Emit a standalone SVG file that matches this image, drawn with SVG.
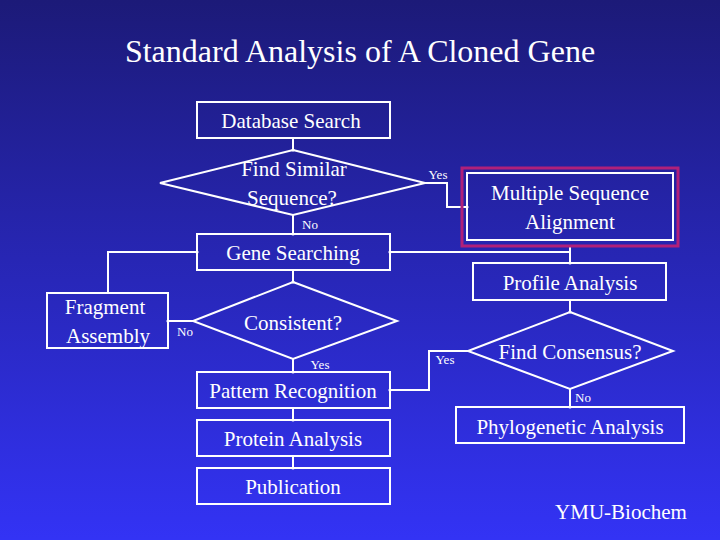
<svg xmlns="http://www.w3.org/2000/svg" width="720" height="540" viewBox="0 0 720 540" font-family="'Liberation Serif', 'Times New Roman', 'DejaVu Serif', serif">
<defs>
<linearGradient id="bg" x1="0" y1="0" x2="0" y2="1"><stop offset="0" stop-color="#1c1a78"/><stop offset="1" stop-color="#3333f5"/></linearGradient>
<marker id="dot" markerWidth="4" markerHeight="4" refX="2" refY="2" markerUnits="userSpaceOnUse"><circle cx="2" cy="2" r="1.6" fill="#fff"/></marker>
</defs>
<style>
.n{fill:none;stroke:#fff;stroke-width:2}
.c{fill:none;stroke:#fff;stroke-width:2;marker-end:url(#dot)}
text{font-family:'Liberation Serif','Times New Roman',serif;fill:#fff;text-anchor:middle}
.t{font-size:21px}
.s{font-size:13px}
</style>
<rect width="720" height="540" fill="url(#bg)"/>
<text x="360" y="62" style="font-size:32px">Standard Analysis of A Cloned Gene</text>
<g id="connectors">
<path class="c" d="M293 138V150"/>
<path class="c" d="M293 215V234"/>
<path class="c" d="M425 183H447V207H467"/>
<path class="c" d="M570 246V252H390"/>
<path class="c" d="M570 252V263"/>
<path class="c" d="M293 270V282"/>
<path class="c" d="M193 321H168"/>
<path class="c" d="M108 293V252H197"/>
<path class="c" d="M293 359V372"/>
<path class="c" d="M570 300V312"/>
<path class="c" d="M468 351H429V390H390"/>
<path class="c" d="M570 389V407"/>
<path class="c" d="M293 408V420"/>
<path class="c" d="M293 456V468"/>
</g>
<g id="db"><rect class="n" x="197" y="102" width="193" height="36"/><text class="t" x="291" y="128">Database Search</text></g>
<g id="d1"><polygon class="n" points="293,150 425,183 293,215 160,183"/><text class="t" x="294" y="176">Find Similar</text><text class="t" x="292" y="205">Sequence?</text></g>
<g id="msa"><rect x="462" y="168" width="216" height="78" fill="none" stroke="#b0207a" stroke-width="3"/><rect class="n" x="467" y="173" width="206" height="67"/><text class="t" x="570" y="200">Multiple Sequence</text><text class="t" x="570" y="229">Alignment</text></g>
<g id="gs"><rect class="n" x="197" y="234" width="193" height="36"/><text class="t" x="293" y="260">Gene Searching</text></g>
<g id="pa"><rect class="n" x="473" y="263" width="193" height="37"/><text class="t" x="570" y="290">Profile Analysis</text></g>
<g id="fa"><rect class="n" x="47" y="293" width="121" height="55"/><text class="t" x="105" y="314">Fragment</text><text class="t" x="108" y="343">Assembly</text></g>
<g id="d2"><polygon class="n" points="293,282 397,321 293,359 193,321"/><text class="t" x="293" y="330">Consistent?</text></g>
<g id="d3"><polygon class="n" points="570,312 673,351 570,389 468,351"/><text class="t" x="570" y="359">Find Consensus?</text></g>
<g id="pr"><rect class="n" x="197" y="372" width="193" height="36"/><text class="t" x="293" y="398">Pattern Recognition</text></g>
<g id="ph"><rect class="n" x="456" y="407" width="228" height="36"/><text class="t" x="570" y="434">Phylogenetic Analysis</text></g>
<g id="pt"><rect class="n" x="197" y="420" width="193" height="36"/><text class="t" x="293" y="446">Protein Analysis</text></g>
<g id="pub"><rect class="n" x="197" y="468" width="193" height="36"/><text class="t" x="293" y="494">Publication</text></g>
<g id="labels">
<text class="s" x="438" y="179">Yes</text>
<text class="s" x="310" y="229">No</text>
<text class="s" x="185" y="336">No</text>
<text class="s" x="320" y="369">Yes</text>
<text class="s" x="445" y="364">Yes</text>
<text class="s" x="583" y="402">No</text>
</g>
<text x="621" y="519" style="font-size:21px">YMU-Biochem</text>
</svg>
